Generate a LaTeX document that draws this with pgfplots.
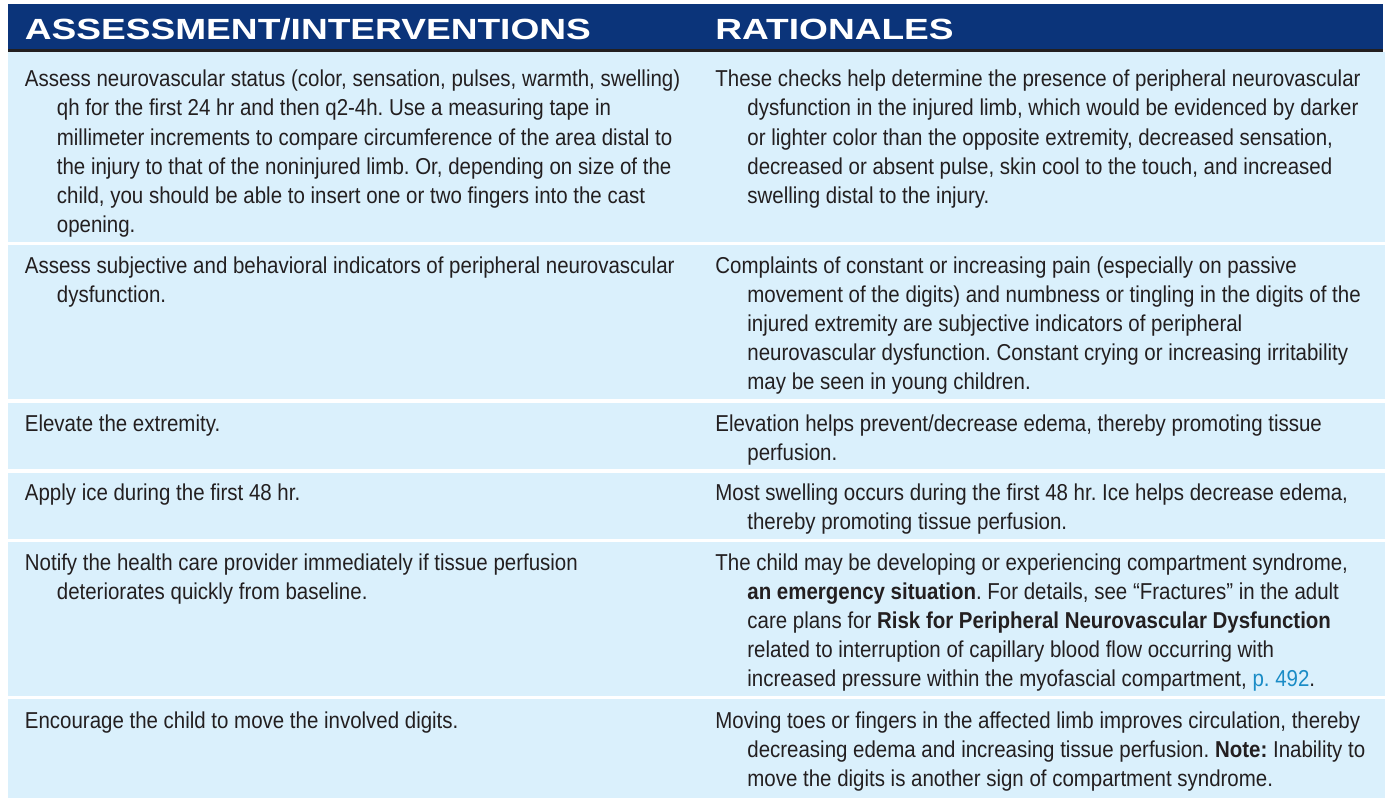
\documentclass[border=0pt]{standalone}
\usepackage{pgfplots}
\pgfplotsset{compat=1.18}
\usepackage{fontspec}
\setmainfont{Liberation Sans}[FakeStretch=0.89]
\newfontfamily\hdrfont{Liberation Sans}[FakeStretch=1.27]
\definecolor{navy}{HTML}{0B347A}
\definecolor{rowblue}{HTML}{DAF0FC}
\definecolor{rulec}{HTML}{231F20}
\definecolor{txt}{HTML}{231F20}
\definecolor{linkc}{HTML}{1A8CC6}
\frenchspacing
\newcommand{\cell}[1]{\parbox[t]{420pt}{\fontsize{11.5}{14.6}\selectfont\frenchspacing\raggedright\hangindent=16pt\hangafter=1 #1}}
\begin{document}
\begin{tikzpicture}
\begin{axis}[scale only axis, width=692.5pt, height=399pt,
  xmin=0, xmax=1385, ymin=0, ymax=798, y dir=reverse,
  hide axis, clip=false]
% header band and rule
\addplot[fill=navy, draw=none] coordinates {(8,4) (1383,4) (1383,48.5) (8,48.5)};
\addplot[fill=rulec, draw=none] coordinates {(8,48.5) (1383,48.5) (1383,52) (8,52)};
% rows
\addplot[fill=rowblue, draw=none] coordinates {(8,52) (1385,52) (1385,241.5) (8,241.5)};
\addplot[fill=rowblue, draw=none] coordinates {(8,245) (1385,245) (1385,399) (8,399)};
\addplot[fill=rowblue, draw=none] coordinates {(8,402.5) (1385,402.5) (1385,469) (8,469)};
\addplot[fill=rowblue, draw=none] coordinates {(8,472.5) (1385,472.5) (1385,538.5) (8,538.5)};
\addplot[fill=rowblue, draw=none] coordinates {(8,542) (1385,542) (1385,695.5) (8,695.5)};
\addplot[fill=rowblue, draw=none] coordinates {(8,699) (1385,699) (1385,798) (8,798)};
% header text
\node[anchor=base west, inner sep=0, text=white, font=\hdrfont\bfseries\fontsize{14.6}{17}\selectfont] at (axis cs:24.5,39) {ASSESSMENT/INTERVENTIONS};
\node[anchor=base west, inner sep=0, text=white, font=\hdrfont\bfseries\fontsize{14.6}{17}\selectfont] at (axis cs:715,39) {RATIONALES};
% row 1
\node[anchor=base west, inner sep=0, text=txt] at (axis cs:24.5,86.7) {\cell{Assess neurovascular status (color, sensation, pulses, warmth, swelling)\newline qh for the first 24 hr and then q2-4h. Use a measuring tape in\newline millimeter increments to compare circumference of the area distal to\newline the injury to that of the noninjured limb. Or, depending on size of the\newline child, you should be able to insert one or two fingers into the cast\newline opening.}};
\node[anchor=base west, inner sep=0, text=txt] at (axis cs:715,86.7) {\cell{These checks help determine the presence of peripheral neurovascular\newline dysfunction in the injured limb, which would be evidenced by darker\newline or lighter color than the opposite extremity, decreased sensation,\newline decreased or absent pulse, skin cool to the touch, and increased\newline swelling distal to the injury.}};
% row 2
\node[anchor=base west, inner sep=0, text=txt] at (axis cs:24.5,273) {\cell{Assess subjective and behavioral indicators of peripheral neurovascular\newline dysfunction.}};
\node[anchor=base west, inner sep=0, text=txt] at (axis cs:715,273) {\cell{Complaints of constant or increasing pain (especially on passive\newline movement of the digits) and numbness or tingling in the digits of the\newline injured extremity are subjective indicators of peripheral\newline neurovascular dysfunction. Constant crying or increasing irritability\newline may be seen in young children.}};
% row 3
\node[anchor=base west, inner sep=0, text=txt] at (axis cs:24.5,431.7) {\cell{Elevate the extremity.}};
\node[anchor=base west, inner sep=0, text=txt] at (axis cs:715,431.7) {\cell{Elevation helps prevent/decrease edema, thereby promoting tissue\newline perfusion.}};
% row 4
\node[anchor=base west, inner sep=0, text=txt] at (axis cs:24.5,500.7) {\cell{Apply ice during the first 48 hr.}};
\node[anchor=base west, inner sep=0, text=txt] at (axis cs:715,500.7) {\cell{Most swelling occurs during the first 48 hr. Ice helps decrease edema,\newline thereby promoting tissue perfusion.}};
% row 5
\node[anchor=base west, inner sep=0, text=txt] at (axis cs:24.5,570) {\cell{Notify the health care provider immediately if tissue perfusion\newline deteriorates quickly from baseline.}};
\node[anchor=base west, inner sep=0, text=txt] at (axis cs:715,570) {\cell{The child may be developing or experiencing compartment syndrome,\newline \textbf{an emergency situation}. For details, see “Fractures” in the adult\newline care plans for \textbf{Risk for Peripheral Neurovascular Dysfunction}\newline related to interruption of capillary blood flow occurring with\newline increased pressure within the myofascial compartment, \textcolor{linkc}{p. 492}.}};
% row 6
\node[anchor=base west, inner sep=0, text=txt] at (axis cs:24.5,728) {\cell{Encourage the child to move the involved digits.}};
\node[anchor=base west, inner sep=0, text=txt] at (axis cs:715,728) {\cell{Moving toes or fingers in the affected limb improves circulation, thereby\newline decreasing edema and increasing tissue perfusion. \textbf{Note:} Inability to\newline move the digits is another sign of compartment syndrome.}};
\end{axis}
\pgfresetboundingbox
\path (current axis.south west) rectangle (current axis.north east);
\end{tikzpicture}
\end{document}
